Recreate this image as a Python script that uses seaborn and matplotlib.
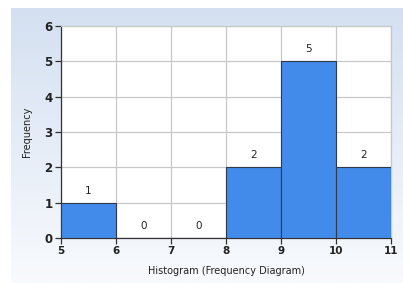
import numpy as np
import matplotlib
matplotlib.use("Agg")
import matplotlib.pyplot as plt
import seaborn as sns
import pandas as pd
from matplotlib.colors import LinearSegmentedColormap

bin_edges = [5, 6, 7, 8, 9, 10, 11]
bin_centers = [5.5, 6.5, 7.5, 8.5, 9.5, 10.5]
counts = [1, 0, 0, 2, 5, 2]
y_ticks = [0, 1, 2, 3, 4, 5, 6]
x_label = "Histogram (Frequency Diagram)"
y_label = "Frequency"

sns.set_style("white")
plt.rcParams['font.family'] = ['DejaVu Sans']

fig = plt.figure(figsize=(4.03, 2.83), dpi=100)
fig.patch.set_facecolor("white")

# gradient background panel
bg = fig.add_axes([11/403, 0.0, 1 - 11/403, 1 - 8/283])
grad = np.linspace(0, 1, 256).reshape(-1, 1)
cmap = LinearSegmentedColormap.from_list("bg", ["#d4e0f1", "#f8fafd"])
bg.imshow(grad, aspect="auto", cmap=cmap, extent=[0, 1, 0, 1], origin="upper")
bg.set_axis_off()

ax = fig.add_axes([61/403, 1 - 238/283, (391-61)/403, (238-26)/283])
ax.set_facecolor("white")
df = pd.DataFrame({"x": bin_centers, "w": counts})
sns.histplot(data=df, x="x", weights="w", bins=bin_edges, ax=ax,
             color="#428bea", alpha=1.0, edgecolor="#2f3b4a", linewidth=0.8, zorder=3)

ax.set_xlim(5, 11)
ax.set_ylim(0, 6)
ax.set_xticks(bin_edges)
ax.set_yticks(y_ticks)
ax.grid(True, color="#c8c8c8", linewidth=0.9, zorder=0)
ax.set_axisbelow(True)
for s in ["top", "right"]:
    ax.spines[s].set_color("#c8c8c8")
    ax.spines[s].set_linewidth(0.9)
for s in ["left", "bottom"]:
    ax.spines[s].set_color("#333333")
    ax.spines[s].set_linewidth(0.9)
ax.tick_params(axis="both", which="both", length=4, width=0.9, color="#333333",
               direction="out", left=True, bottom=True, pad=2)
for lbl in ax.get_xticklabels():
    lbl.set_fontsize(7.5); lbl.set_fontweight("bold"); lbl.set_color("#222222")
for lbl in ax.get_yticklabels():
    lbl.set_fontsize(8.5); lbl.set_fontweight("bold"); lbl.set_color("#222222")

ax.set_xlabel(x_label, fontsize=7, color="#222222", labelpad=7)
ax.set_ylabel(y_label, fontsize=7, color="#222222", labelpad=9)

for xc, c in zip(bin_centers, counts):
    ax.annotate(str(c), (xc, c), xytext=(0, 5), textcoords="offset points",
                ha="center", va="bottom", fontsize=7.5, color="#222222")

fig.savefig("out.png", dpi=100)
